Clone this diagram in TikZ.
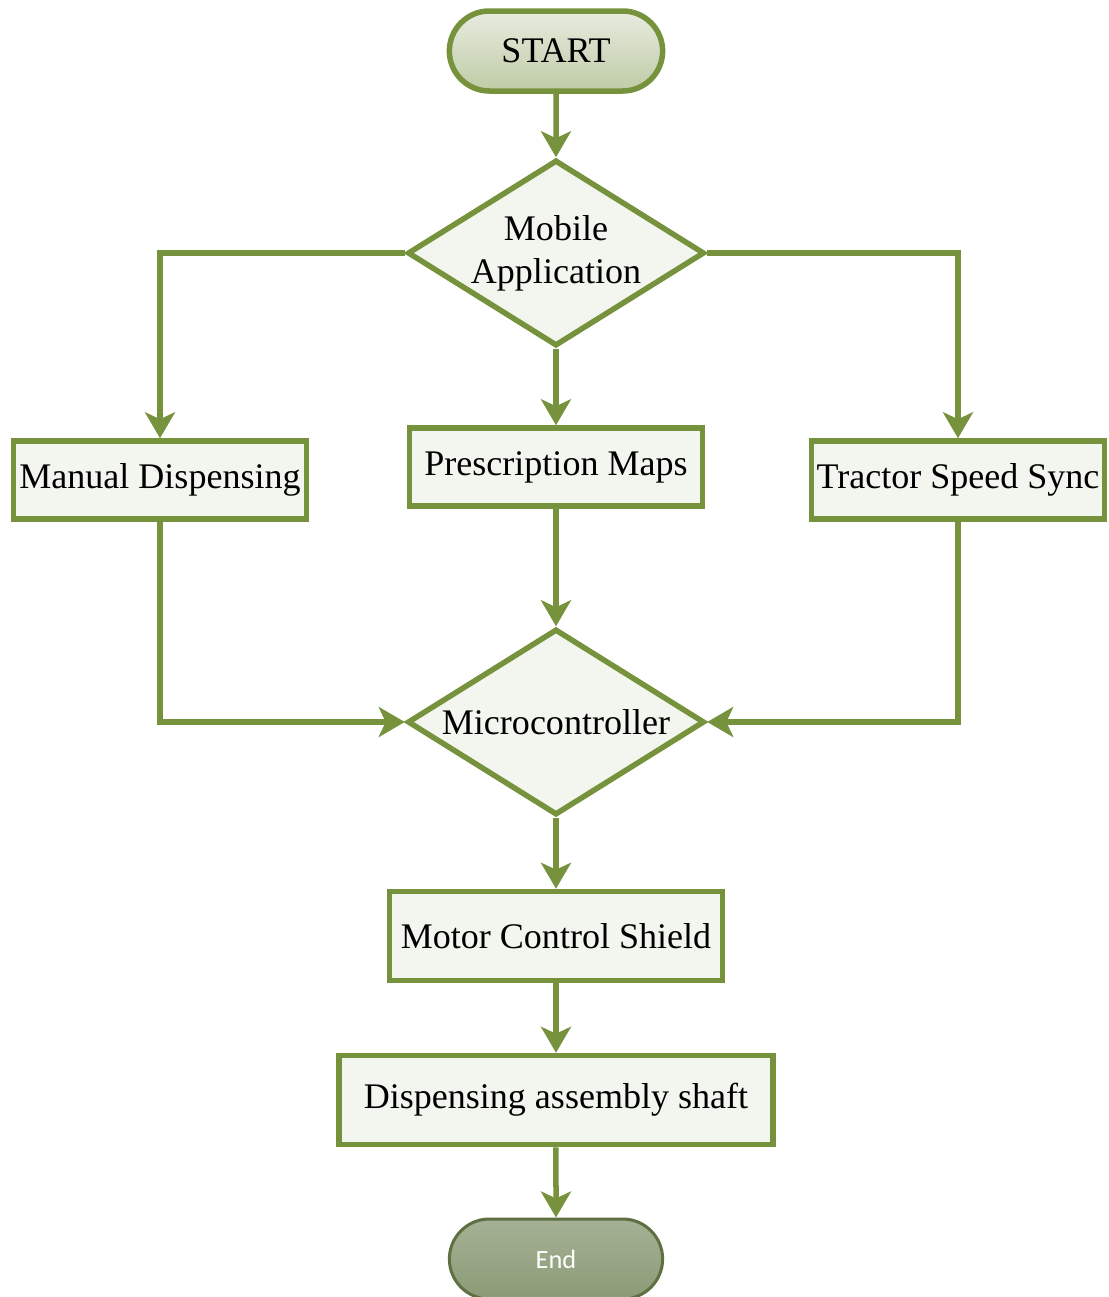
\documentclass[tikz,border=0pt]{standalone}
\usepackage{fontspec}
\setmainfont{Liberation Serif}
\setsansfont{Carlito}
\usepackage{xcolor}
\usepackage{tikz}
\usetikzlibrary{shapes.geometric, shapes.misc}
\usetikzlibrary{arrows.meta}
\definecolor{leafgreen}{HTML}{76923C}
\definecolor{leafdark}{HTML}{5E7042}
\definecolor{palefill}{HTML}{F3F6EF}
\definecolor{starttop}{HTML}{E7ECDF}
\definecolor{startbot}{HTML}{BFCBA6}
\definecolor{endtop}{HTML}{A5B195}
\definecolor{endbot}{HTML}{8B9B76}
\tikzstyle{terminal} = [rounded rectangle, minimum width=4.5cm, minimum height=1.6cm, line width=0.11cm, draw=leafgreen, top color=starttop, bottom color=startbot, font=\fontsize{20.5}{24}\selectfont]
\tikzstyle{endterm} = [rounded rectangle, minimum width=4.5cm, minimum height=1.6cm, line width=0.06cm, draw=leafdark, top color=endtop, bottom color=endbot, text=white, font=\sffamily\fontsize{15}{18}\selectfont]
\tikzstyle{procbox} = [rectangle, minimum width=5.86cm, minimum height=1.56cm, inner sep=1pt, text centered, line width=0.11cm, draw=leafgreen, fill=palefill, font=\fontsize{20.5}{24}\selectfont]
\tikzstyle{choice} = [diamond, aspect=1.6, inner sep=0pt, minimum width=5.94cm, minimum height=3.72cm, align=center, line width=0.11cm, draw=leafgreen, fill=palefill, font=\fontsize{20.5}{24.5}\selectfont]
\tikzstyle{arrow} = [line width=0.11cm, draw=leafgreen, -{Stealth[length=0.52cm, width=0.6cm, inset=0.14cm]}]

\begin{document}
\begin{tikzpicture}[node distance=4cm]
\useasboundingbox (-11.12,1.02) rectangle (11.06,-24.92);
\node (start) [terminal] {START};
\node (mobile) [choice, below of=start, yshift=-0.04cm] {Mobile\\Application};
\node (manual) [procbox, below of=mobile, xshift=-7.92cm, yshift=-0.54cm] {Manual Dispensing};
\node (presc) [procbox, below of=mobile, yshift=-0.28cm] {Prescription Maps};
\node (tractor) [procbox, below of=mobile, xshift=8.04cm, yshift=-0.54cm] {Tractor Speed Sync};
\node (micro) [choice, below of=presc, yshift=-1.1cm] {Microcontroller};
\node (motor) [procbox, below of=micro, yshift=-0.28cm, minimum width=6.66cm, minimum height=1.78cm] {Motor Control Shield};
\node (shaft) [procbox, below of=motor, yshift=0.72cm, minimum width=8.68cm, minimum height=1.78cm] {Dispensing assembly shaft};
\node (end) [endterm, below of=shaft, yshift=0.82cm] {End};
\draw [arrow] (start) -- (mobile);
\draw [arrow] (mobile.west) -| (manual);
\draw [arrow] (mobile) -- (presc);
\draw [arrow] (mobile.east) -| (tractor);
\draw [arrow] (manual) |- (micro.west);
\draw [arrow] (presc) -- (micro);
\draw [arrow] (tractor) |- (micro.east);
\draw [arrow] (micro) -- (motor);
\draw [arrow] (motor) -- (shaft);
\draw [arrow] (shaft) -- (end);
\end{tikzpicture}
\end{document}
